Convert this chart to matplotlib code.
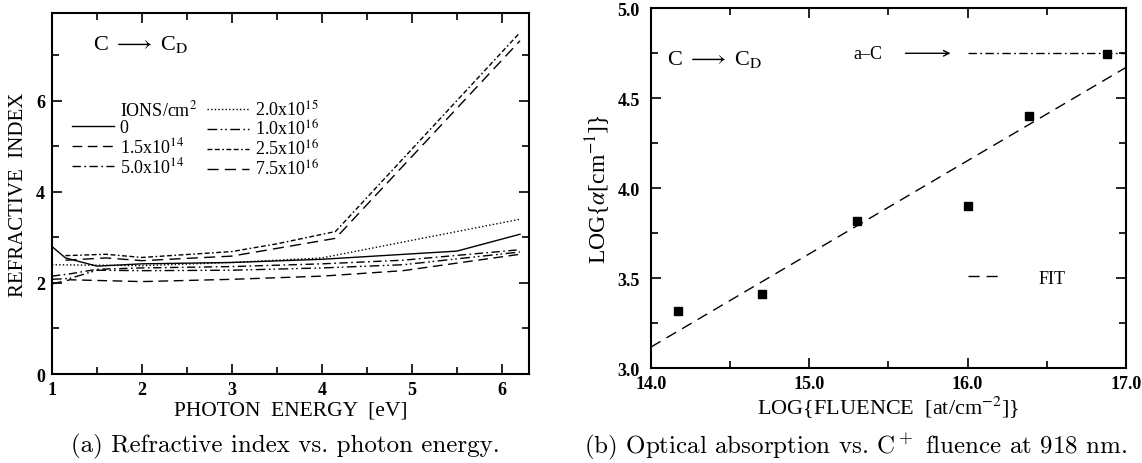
import numpy as np
import matplotlib
matplotlib.use("Agg")
import matplotlib.pyplot as plt
from matplotlib.lines import Line2D

plt.rcParams["font.family"] = "Liberation Serif"
plt.rcParams["mathtext.fontset"] = "stix"

# refractive index vs photon energy, one curve per C+ dose
e_0 = [1.0, 1.15, 1.5, 2.0, 3.0, 4.0, 5.5, 6.2]
n_0 = [2.80, 2.55, 2.37, 2.42, 2.45, 2.52, 2.70, 3.07]
e_15e14 = [1.0, 1.2, 2.0, 3.0, 4.0, 4.9, 6.2]
n_15e14 = [1.98, 2.07, 2.03, 2.08, 2.15, 2.27, 2.63]
e_50e14 = [1.0, 1.2, 1.5, 2.0, 3.0, 4.0, 4.9, 6.2]
n_50e14 = [2.15, 2.20, 2.30, 2.33, 2.36, 2.42, 2.50, 2.73]
e_20e15 = [1.0, 2.0, 3.0, 4.0, 6.2]
n_20e15 = [2.40, 2.38, 2.45, 2.55, 3.40]
e_10e16 = [1.0, 1.2, 1.5, 2.0, 3.0, 4.0, 4.9, 6.2]
n_10e16 = [2.08, 2.10, 2.28, 2.27, 2.28, 2.33, 2.40, 2.68]
e_25e16 = [1.15, 1.6, 2.0, 3.0, 3.5, 4.15, 6.2]
n_25e16 = [2.60, 2.63, 2.56, 2.69, 2.86, 3.13, 7.50]
e_75e16 = [1.15, 1.6, 2.0, 3.0, 3.5, 4.15, 6.2]
n_75e16 = [2.50, 2.55, 2.49, 2.59, 2.76, 2.98, 7.32]

dose_labels = ["0", r"1.5x10$^{14}$", r"5.0x10$^{14}$", r"2.0x10$^{15}$",
               r"1.0x10$^{16}$", r"2.5x10$^{16}$", r"7.5x10$^{16}$"]

# absorption at 918 nm vs fluence
log_fluence = [14.17, 14.70, 15.30, 16.00, 16.39, 16.88]
log_alpha = [3.32, 3.41, 3.82, 3.90, 4.40, 4.745]
a_c_level = 4.75

styles = [
    "-",
    (0, (7, 4)),
    (0, (6, 2.5, 1.2, 2.5)),
    (0, (1, 1.6)),
    (0, (7, 2.5, 1.2, 2, 1.2, 2.5)),
    (0, (3.5, 1.8, 3.5, 1.8, 1.2, 1.8)),
    (0, (8, 4.5)),
]

fig = plt.figure(figsize=(11.42, 4.64), dpi=100)
ax1 = fig.add_axes([0.0455, 0.1918, 0.4177, 0.778])
ax2 = fig.add_axes([0.5700, 0.2041, 0.4159, 0.7759])

for ax in (ax1, ax2):
    for s in ax.spines.values():
        s.set_linewidth(1.5)
    ax.tick_params(which="both", direction="in", top=True, right=True, width=1.2)
    ax.tick_params(which="major", length=7)
    ax.tick_params(which="minor", length=5)

# ---- (a) refractive index ----
series = [(e_0, n_0), (e_15e14, n_15e14), (e_50e14, n_50e14), (e_20e15, n_20e15),
          (e_10e16, n_10e16), (e_25e16, n_25e16), (e_75e16, n_75e16)]
handles = []
for (e, n), ls, lab in zip(series, styles, dose_labels):
    h, = ax1.plot(e, n, color="black", lw=1.0, linestyle=ls, label=lab)
    handles.append(h)

ax1.set_xlim(1, 6.3)
ax1.set_ylim(0, 7.93)
ax1.set_xticks([1, 2, 3, 4, 5, 6])
ax1.set_xticks(np.arange(1.5, 6.3, 1.0), minor=True)
ax1.set_yticks([0, 2, 4, 6])
ax1.set_yticks([1, 3, 5, 7], minor=True)
ax1.tick_params(axis="x", pad=5)
ax1.tick_params(axis="y", pad=5)
for t in ax1.get_xticklabels() + ax1.get_yticklabels():
    t.set_fontsize(13)
    t.set_fontweight("bold")
ax1.set_xlabel("PHOTON  ENERGY  [eV]", fontsize=15.5, labelpad=2)
ax1.set_ylabel("REFRACTIVE  INDEX", fontsize=15, labelpad=6)
ax1.text(0.086, 0.915, r"C $\longrightarrow$ C$_\mathrm{D}$", transform=ax1.transAxes,
         fontsize=16, va="center")

header = Line2D([], [], color="none")
leg_handles = [header] + handles
leg_labels = [r"IONS/cm$^2$"] + dose_labels
ax1.legend(leg_handles, leg_labels, ncol=2, loc="upper left",
           bbox_to_anchor=(0.042, 0.762), frameon=False, fontsize=13,
           handlelength=2.3, handletextpad=0.35, columnspacing=0.55,
           labelspacing=0.0, borderpad=0, borderaxespad=0)

# ---- (b) absorption vs fluence ----
slope, icpt = np.polyfit(log_fluence, log_alpha, 1)
fit_x = np.array([14.0, 17.0])
ax2.plot(fit_x, icpt + slope * fit_x, color="black", lw=1.0,
         linestyle=(0, (8, 5)), label="FIT")
ax2.plot(log_fluence, log_alpha, "s", color="black", markersize=6)
ax2.plot([16.0, 17.0], [a_c_level, a_c_level], color="black", lw=1.0,
         linestyle=(0, (6, 2.5, 1.2, 2.5)))
ax2.text(15.28, a_c_level, "a–C", fontsize=13, va="center")
ax2.annotate("", xy=(15.91, a_c_level), xytext=(15.59, a_c_level),
             arrowprops=dict(arrowstyle="->", lw=1.0, color="black"))
ax2.text(0.034, 0.86, r"C $\longrightarrow$ C$_\mathrm{D}$", transform=ax2.transAxes,
         fontsize=16, va="center")

ax2.set_xlim(14, 17)
ax2.set_ylim(3, 5)
ax2.set_xticks([14, 15, 16, 17])
ax2.set_xticks([14.5, 15.5, 16.5], minor=True)
ax2.set_xticklabels(["14.0", "15.0", "16.0", "17.0"])
ax2.set_yticks([3.0, 3.5, 4.0, 4.5, 5.0])
ax2.set_yticks([3.25, 3.75, 4.25, 4.75], minor=True)
ax2.set_yticklabels(["3.0", "3.5", "4.0", "4.5", "5.0"])
ax2.tick_params(axis="x", pad=5)
ax2.tick_params(axis="y", pad=8)
for t in ax2.get_xticklabels() + ax2.get_yticklabels():
    t.set_fontsize(13)
    t.set_fontweight("bold")
ax2.set_xlabel(r"LOG{FLUENCE  [at/cm$^{-2}$]}", fontsize=16, labelpad=1)
ax2.set_ylabel(r"LOG{$\alpha$[cm$^{-1}$]}", fontsize=17, labelpad=3)
ax2.legend(loc="center left", bbox_to_anchor=(0.667, 0.25), frameon=False,
           fontsize=13, handlelength=2.0, handletextpad=1.9,
           borderpad=0, borderaxespad=0)

# captions
fig.text(0.25, 0.037, "(a) Refractive index vs. photon energy.", ha="center",
         va="center", fontsize=18, family="cmr10")
fig.text(0.749, 0.037, r"(b) Optical absorption vs. C$^+$ fluence at 918 nm.",
         ha="center", va="center", fontsize=18, family="cmr10", math_fontfamily="cm")

fig.savefig("out.png", dpi=100)
